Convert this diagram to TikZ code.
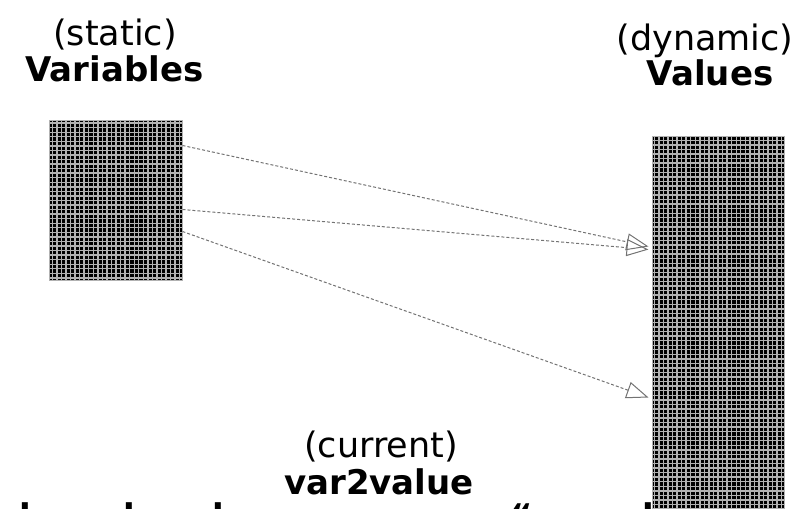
\documentclass[tikz,border=0pt]{standalone}
\usepackage{fontspec}
\setmainfont{DejaVu Sans}
\usetikzlibrary{arrows.meta}
\tikzset{
  halftone/.style={draw=gray!60, line width=1bp, fill=black, inner sep=0pt,
    path picture={\draw[gray!60, line width=1.4bp, step=4.55bp]
      (path picture bounding box.south west) grid (path picture bounding box.north east);}},
  lbl/.style={anchor=base, inner sep=0pt, font=\fontsize{35bp}{40bp}\selectfont},
  blbl/.style={anchor=base, inner sep=0pt, font=\fontsize{34bp}{40bp}\selectfont\bfseries},
  link/.style={draw=black!55, line width=1bp, dash pattern=on 3bp off 2bp,
    -{Triangle[open, length=22bp, width=17bp, line width=1bp]}}
}
\begin{document}
\begin{tikzpicture}[x=1bp,y=-1bp]
\useasboundingbox (0,0) rectangle (797,509);
\clip (0,0) rectangle (797,509);
% titles
\node[lbl]  (tstatic) at (115,45.5) {(static)};
\node[blbl] (tvars)   at (114.5,82) {Variables};
\node[lbl]  (tdyn)    at (705,50.5) {(dynamic)};
\node[blbl] (tvals)   at (710,86) {Values};
\node[lbl]  (tcur)    at (381,457) {(current)};
\node[blbl] (tv2v)    at (379,494) {var2value};
% clipped line of text below
\node[blbl] (c1) at (25,528) {l};
\node[blbl] (c2) at (129,528) {l};
\node[blbl] (c3) at (218,528) {l};
\node[blbl] (c4) at (522,528) {“};
\node[blbl] (c5) at (648,528) {l};
% boxes
\node[halftone, minimum width=132bp, minimum height=159bp] (vars) at (116,200.5) {};
\node[halftone, minimum width=132bp, minimum height=380bp] (vals) at (718,327) {};
% connectors
\draw[link] ([yshift=-25bp]vars.north east) -- ([xshift=-3bp,yshift=-110bp]vals.north west);
\draw[link] ([yshift=-89bp]vars.north east) -- ([xshift=-3bp,yshift=-113bp]vals.north west);
\draw[link] ([yshift=-111bp]vars.north east) -- ([xshift=-3bp,yshift=-261bp]vals.north west);
\end{tikzpicture}
\end{document}
